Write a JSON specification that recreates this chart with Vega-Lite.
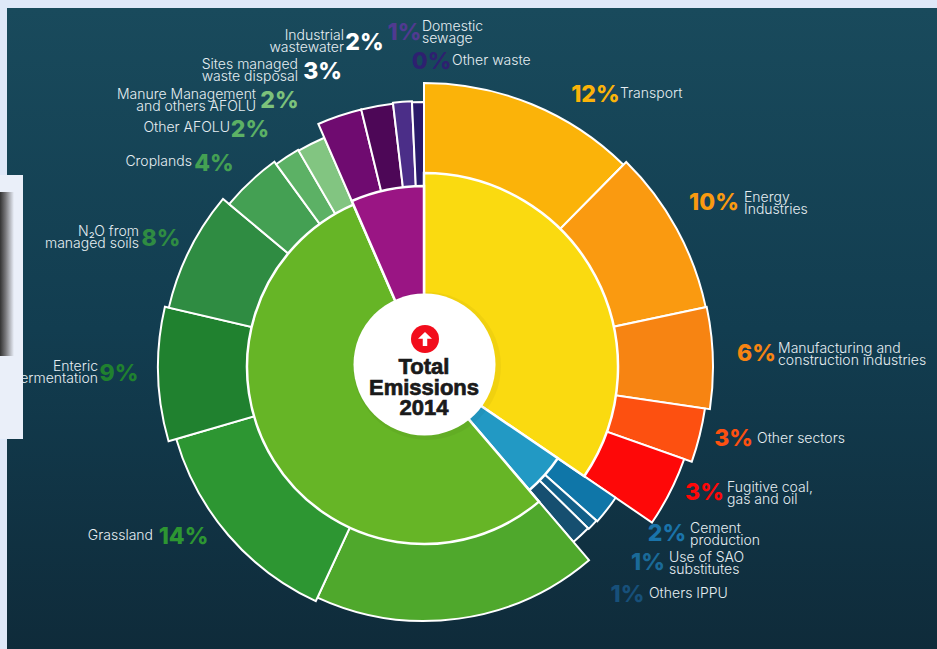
{
"$schema":"https://vega.github.io/schema/vega-lite/v6.json",
"width":937,"height":649,"padding":0,"autosize":"none","background":"#dfe8f8",
"config":{"view":{"stroke":null},"legend":{"disable":true}},
"datasets":{"sectors":[
{"ring":"outer","order":1,"sector":"Transport","share":44.6,"pct":"12%","name":"Transport"},
{"ring":"outer","order":2,"sector":"Energy Industries","share":33.4,"pct":"10%","name":"Energy\nIndustries"},
{"ring":"outer","order":3,"sector":"Manufacturing","share":20.4,"pct":"6%","name":"Manufacturing and\nconstruction industries"},
{"ring":"outer","order":4,"sector":"Other sectors","share":11.1,"pct":"3%","name":"Other sectors"},
{"ring":"outer","order":5,"sector":"Fugitive","share":14.8,"pct":"3%","name":"Fugitive coal,\ngas and oil"},
{"ring":"outer","order":6,"sector":"Cement","share":7.4,"pct":"2%","name":"Cement\nproduction"},
{"ring":"outer","order":7,"sector":"SAO","share":2.8,"pct":"1%","name":"Use of SAO\nsubstitutes"},
{"ring":"outer","order":8,"sector":"Others IPPU","share":5.0,"pct":"1%","name":"Others IPPU"},
{"ring":"outer","order":9,"sector":"Land","share":65.3},
{"ring":"outer","order":10,"sector":"Grassland","share":49.0,"pct":"14%","name":"Grassland"},
{"ring":"outer","order":11,"sector":"Enteric","share":29.3,"pct":"9%","name":"Enteric\nfermentation"},
{"ring":"outer","order":12,"sector":"N2O","share":26.8,"pct":"8%","name":"N₂O from\nmanaged soils"},
{"ring":"outer","order":13,"sector":"Croplands","share":14.0,"pct":"4%","name":"Croplands"},
{"ring":"outer","order":14,"sector":"Other AFOLU","share":6.0,"pct":"2%","name":"Other AFOLU"},
{"ring":"outer","order":15,"sector":"Manure","share":6.6,"pct":"2%","name":"Manure Management\nand others AFOLU"},
{"ring":"outer","order":16,"sector":"Sites","share":9.8,"pct":"3%","name":"Sites managed\nwaste disposal"},
{"ring":"outer","order":17,"sector":"Industrial","share":7.0,"pct":"2%","name":"Industrial\nwastewater"},
{"ring":"outer","order":18,"sector":"Domestic","share":4.1,"pct":"1%","name":"Domestic\nsewage"},
{"ring":"outer","order":19,"sector":"Other waste","share":2.6,"pct":"0%","name":"Other waste"},
{"ring":"inner","order":1,"sector":"Energy","share":124.3},
{"ring":"inner","order":2,"sector":"IPPU","share":15.2},
{"ring":"inner","order":3,"sector":"AFOLU","share":197.0},
{"ring":"inner","order":4,"sector":"Waste","share":23.5}
]},
"data":{"name":"sectors"},
"layer":[
{"data":{"values":[{"part":"panel"}]},"mark":{"type":"rect","color":{"gradient":"linear","x1":0,"y1":0,"x2":0,"y2":1,"stops":[{"offset":0,"color":"#194a5c"},{"offset":0.5,"color":"#123d50"},{"offset":1,"color":"#0f2b3a"}]}},
 "encoding":{"x":{"value":7},"x2":{"value":937},"y":{"value":8},"y2":{"value":649}}},
{"transform":[{"stack":"share","groupby":["ring"],"sort":[{"field":"order","order":"ascending"}],"as":["s0","s1"]},{"filter":"datum.ring==='outer'"}],
 "mark":{"type":"arc","stroke":"#ffffff","strokeWidth":2},
 "encoding":{"x":{"value":424},"y":{"value":367},
  "theta":{"field":"s0","type":"quantitative","stack":null,"scale":{"domain":[0,360],"range":[0,6.2832]}},"theta2":{"field":"s1"},
  "radius":{"field":"order","type":"quantitative","scale":{"domain":[1,2,3,4,5,6,7,8,9,10,11,12,13,14,15,16,17,18,19],"range":[284,288,289,284,276,232,231,230,254,258,266,262,254,251,250,265,265,266,265]}},
  "radius2":{"value":60},
  "color":{"field":"sector","type":"nominal","legend":null,"scale":{"domain":["Transport","Energy Industries","Manufacturing","Other sectors","Fugitive","Cement","SAO","Others IPPU","Land","Grassland","Enteric","N2O","Croplands","Other AFOLU","Manure","Sites","Industrial","Domestic","Other waste"],"range":["#fbb309","#fa9a10","#f78412","#fd5010","#fe0808","#0f76a8","#125f88","#164f70","#4fa82c","#2d9632","#20812f","#2f8c42","#44a053","#5cb165","#82c581","#6f0b70","#4d0757","#4b2e88","#2a1a6a"]}}}},
{"transform":[{"stack":"share","groupby":["ring"],"sort":[{"field":"order","order":"ascending"}],"as":["s0","s1"]},{"filter":"datum.ring==='inner'"}],
 "mark":{"type":"arc","stroke":"#ffffff","strokeWidth":2.5},
 "encoding":{"x":{"value":424},"y":{"value":367},
  "theta":{"field":"s0","type":"quantitative","stack":null,"scale":{"domain":[0,360],"range":[0,6.2832]}},"theta2":{"field":"s1"},
  "radius":{"field":"order","type":"quantitative","scale":{"domain":[1,2,3,4],"range":[194,162,177,181]}},
  "radius2":{"value":40},
  "color":{"field":"sector","type":"nominal","legend":null,"scale":{"domain":["Energy","IPPU","AFOLU","Waste"],"range":["#fada10","#2299c4","#66b526","#9a1584"]}}}},
{"data":{"values":[{"part":"hub shadow"}]},"mark":{"type":"point","filled":true,"shape":"circle","color":"#000000","opacity":0.04,"size":21904},
 "encoding":{"x":{"value":427},"y":{"value":366}}},
{"data":{"values":[{"part":"hub"}]},"mark":{"type":"point","filled":true,"shape":"circle","color":"#ffffff","opacity":1,"size":20164},
 "encoding":{"x":{"value":424.5},"y":{"value":364.5}}},
{"data":{"values":[{"part":"badge"}]},"mark":{"type":"point","filled":true,"shape":"circle","color":"#f20d1c","opacity":1,"size":784},
 "encoding":{"x":{"value":425},"y":{"value":339}}},
{"data":{"values":[{"part":"arrow"}]},"mark":{"type":"point","filled":true,"shape":"M0,-1 L1,-0.05 L0.32,-0.05 L0.32,1 L-0.32,1 L-0.32,-0.05 L-1,-0.05 Z","color":"#ffffff","opacity":1,"size":196},
 "encoding":{"x":{"value":425},"y":{"value":339}}},
{"data":{"values":[{"title":"Total\nEmissions\n2014"}]},"mark":{"type":"text","font":"Liberation Sans","fontWeight":"bold","fontSize":22,"lineBreak":"\n","lineHeight":20.5,"color":"#1a1a1a","stroke":"#1a1a1a","strokeWidth":0.7,"align":"center","baseline":"middle"},
 "encoding":{"x":{"value":424},"y":{"value":367},"text":{"field":"title"}}},
{"transform":[{"filter":"isValid(datum.pct)"}],
 "mark":{"type":"text","font":"Inter","fontWeight":800,"fontSize":23,"align":"center","baseline":"middle"},
 "encoding":{"x":{"value":424},"y":{"value":367},"text":{"field":"pct"},
  "theta":{"field":"order","type":"quantitative","stack":null,"scale":{"domain":[1,2,3,4,5,6,7,8,10,11,12,13,14,15,16,17,18,19],"range":[0.5623,1.0558,1.5317,1.7995,1.9929,2.1726,2.2896,2.4130,4.0969,4.6895,5.1653,5.4808,5.6497,5.7854,5.9520,6.1016,6.2249,6.3078]}},
  "radius":{"field":"order","type":"quantitative","scale":{"domain":[1,2,3,4,5,6,7,8,10,11,12,13,14,15,16,17,18,19],"range":[321.6,333.2,332.8,317.8,307.5,294.8,297.6,305.6,294.5,305.1,292.5,292.1,294.0,302.7,312.0,329.4,334.6,305.1]}},
  "color":{"field":"sector","type":"nominal","legend":null,"scale":{"domain":["Transport","Energy Industries","Manufacturing","Other sectors","Fugitive","Cement","SAO","Others IPPU","Grassland","Enteric","N2O","Croplands","Other AFOLU","Manure","Sites","Industrial","Domestic","Other waste"],"range":["#fbb309","#fa9a10","#f78412","#fd5010","#fe0808","#1a74aa","#1a6a98","#17507a","#2d9632","#20812f","#2f8c42","#44a053","#5cb165","#7cc27b","#ffffff","#ffffff","#503a90","#2e2070"]}}}},
{"transform":[{"filter":"indexof(['Transport','Energy Industries','Manufacturing','Other sectors','Fugitive','Cement','SAO','Others IPPU','Domestic','Other waste'],datum.sector)>=0"}],
 "mark":{"type":"text","font":"Inter","fontWeight":300,"fontSize":14,"lineBreak":"\n","lineHeight":11.8,"align":"left","baseline":"middle","color":"#e6eef2"},
 "encoding":{"x":{"value":424},"y":{"value":367},"text":{"field":"name"},
  "theta":{"field":"order","type":"quantitative","stack":null,"scale":{"domain":[1,2,3,4,5,6,7,8,18,19],"range":[0.6225,1.0847,1.5200,1.7837,1.9506,2.1179,2.2331,2.3606,6.2773,6.3745]}},
  "radius":{"field":"order","type":"quantitative","scale":{"domain":[1,2,3,4,5,6,7,8,18,19],"range":[336.1,361.9,354.5,340.7,326.3,311.4,310.7,319.6,340.0,307.3]}}}},
{"transform":[{"filter":"indexof(['Grassland','Enteric','N2O','Croplands','Other AFOLU','Manure','Sites','Industrial'],datum.sector)>=0"}],
 "mark":{"type":"text","font":"Inter","fontWeight":300,"fontSize":14,"lineBreak":"\n","lineHeight":11.8,"align":"right","baseline":"middle","color":"#e6eef2"},
 "encoding":{"x":{"value":424},"y":{"value":367},"text":{"field":"name"},
  "theta":{"field":"order","type":"quantitative","stack":null,"scale":{"domain":[10,11,12,13,14,15,16,17],"range":[4.1546,4.7124,5.1550,5.4359,5.6014,5.7301,5.8877,6.0461]}},
  "radius":{"field":"order","type":"quantitative","scale":{"domain":[10,11,12,13,14,15,16,17],"range":[319.4,326.0,315.4,309.6,307.8,319.7,327.2,340.5]}}}},
{"data":{"values":[{"part":"side panel"}]},"mark":{"type":"rect","color":"#eaeff9"},
 "encoding":{"x":{"value":0},"x2":{"value":23},"y":{"value":175},"y2":{"value":439}}},
{"data":{"values":[{"part":"side shadow"}]},"mark":{"type":"rect","color":{"gradient":"linear","x1":0,"y1":0,"x2":1,"y2":0,"stops":[{"offset":0,"color":"#333333"},{"offset":0.4,"color":"#77777a"},{"offset":1,"color":"#eaeff9"}]}},
 "encoding":{"x":{"value":0},"x2":{"value":14},"y":{"value":192},"y2":{"value":356}}}
],
"resolve":{"scale":{"theta":"independent","radius":"independent","color":"independent"}}
}
